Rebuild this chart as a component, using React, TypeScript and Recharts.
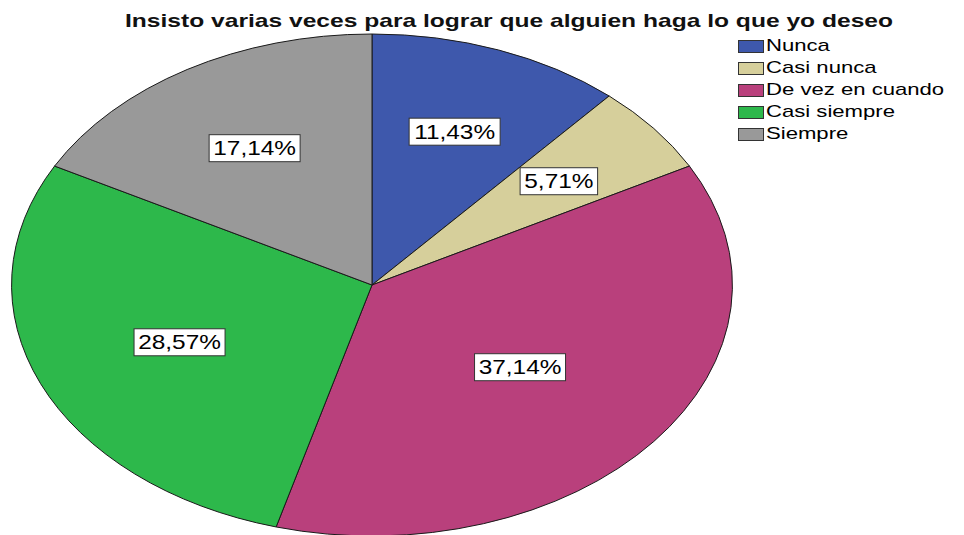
import React from 'react';
import { PieChart, Pie, Cell, Legend } from 'recharts';

const categories = ['Nunca', 'Casi nunca', 'De vez en cuando', 'Casi siempre', 'Siempre'];
const counts = [4, 2, 13, 10, 6];
const colors = ['#3e58ac', '#d6cf9b', '#b9407c', '#2db84b', '#999999'];
const title = 'Insisto varias veces para lograr que alguien haga lo que yo deseo';

const data = categories.map((name, i) => ({ name, value: counts[i] }));

// the SPSS pie is drawn as a flattened ellipse
const STRETCH = 1.436;
const RAD = Math.PI / 180;

const EllipseSector = (props: any) => {
  const { cx, cy, outerRadius, startAngle, endAngle, fill } = props;
  const rx = outerRadius * STRETCH;
  const ry = outerRadius;
  const x1 = cx + rx * Math.cos(startAngle * RAD);
  const y1 = cy - ry * Math.sin(startAngle * RAD);
  const x2 = cx + rx * Math.cos(endAngle * RAD);
  const y2 = cy - ry * Math.sin(endAngle * RAD);
  const large = Math.abs(startAngle - endAngle) > 180 ? 1 : 0;
  const sweep = startAngle > endAngle ? 1 : 0;
  return (
    <path
      d={`M${cx},${cy} L${x1},${y1} A${rx},${ry} 0 ${large} ${sweep} ${x2},${y2} Z`}
      fill={fill}
      stroke="#1a1a1a"
      strokeWidth={1}
    />
  );
};

// label sits at the sector's centroid
const PercentLabel = (props: any) => {
  const { cx, cy, midAngle, outerRadius, percent, startAngle, endAngle } = props;
  const half = (Math.abs(startAngle - endAngle) / 2) * RAD;
  const k = half > 0 ? ((2 / 3) * Math.sin(half)) / half : 0.6;
  const x = cx + outerRadius * STRETCH * k * Math.cos(midAngle * RAD);
  const y = cy - outerRadius * k * Math.sin(midAngle * RAD);
  const txt = (percent * 100).toFixed(2).replace('.', ',') + '%';
  const w = txt.length * 13.5 + 10;
  return (
    <g transform={`translate(${x},${y})`}>
      <rect x={-w / 2} y={-13.5} width={w} height={27} fill="#ffffff" stroke="#333333" strokeWidth={1} />
      <text
        x={0}
        y={7}
        textAnchor="middle"
        fontSize={20}
        fontFamily="'Liberation Sans', Arial, sans-serif"
        fill="#000"
        transform="scale(1.22,1)"
      >
        {txt}
      </text>
    </g>
  );
};

const LegendBox = (props: any) => {
  const items = [...(props.payload || [])].sort(
    (a: any, b: any) => categories.indexOf(a.value) - categories.indexOf(b.value)
  );
  return (
    <div>
      {items.map((p: any) => (
        <div key={p.value} style={{ display: 'flex', alignItems: 'center', height: 22 }}>
          <div style={{ width: 26, height: 13, background: p.color, border: '1px solid #333', boxSizing: 'border-box' }} />
          <span
            style={{
              fontFamily: "'Liberation Sans', Arial, sans-serif",
              fontSize: 17,
              color: '#000',
              marginLeft: 2,
              display: 'inline-block',
              transform: 'scaleX(1.3)',
              transformOrigin: 'left center',
              whiteSpace: 'nowrap',
            }}
          >
            {p.value}
          </span>
        </div>
      ))}
    </div>
  );
};

export default function App() {
  return (
    <div style={{ position: 'absolute', left: 0, top: 0, width: 964, height: 535, background: '#fff', overflow: 'hidden' }}>
      <svg width={964} height={40} style={{ position: 'absolute', left: 0, top: 0, zIndex: 2 }}>
        <text
          x={509}
          y={27}
          textAnchor="middle"
          fontSize={19}
          fontWeight="bold"
          fontFamily="'Liberation Sans', Arial, sans-serif"
          fill="#111"
          textLength={768}
          lengthAdjust="spacingAndGlyphs"
        >
          {title}
        </text>
      </svg>
      <PieChart width={964} height={535} margin={{ top: 0, right: 0, bottom: 0, left: 0 }}>
        <Pie
          data={data}
          dataKey="value"
          nameKey="name"
          cx={372}
          cy={285}
          outerRadius={251}
          startAngle={90}
          endAngle={-270}
          isAnimationActive={false}
          labelLine={false}
          label={PercentLabel}
          shape={EllipseSector}
          stroke="#1a1a1a"
        >
          {data.map((d, i) => (
            <Cell key={d.name} fill={colors[i]} />
          ))}
        </Pie>
        <Legend
          layout="vertical"
          align="right"
          verticalAlign="top"
          content={LegendBox}
          wrapperStyle={{ left: 738, top: 35, width: 226, right: 'auto' }}
        />
      </PieChart>
    </div>
  );
}
